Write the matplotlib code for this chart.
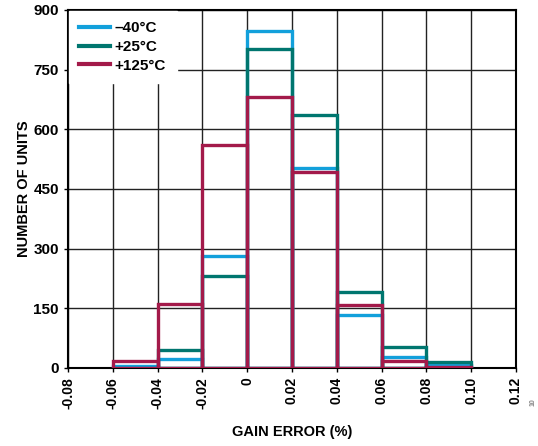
import numpy as np
import matplotlib.pyplot as plt

plt.rcParams['font.family'] = ['Liberation Sans', 'DejaVu Sans']
plt.rcParams['font.weight'] = 'bold'

# Histogram bins (gain error, %)
bin_edges = [-0.06, -0.04, -0.02, 0.0, 0.02, 0.04, 0.06, 0.08, 0.10]

# Number of units per bin for each temperature
counts_m40 = [5, 23, 281, 847, 502, 134, 27, 8]
counts_p25 = [0, 45, 231, 803, 636, 190, 54, 15]
counts_p125 = [18, 161, 560, 682, 492, 158, 18, 3]

series_labels = ['\u201340\u00b0C', '+25\u00b0C', '+125\u00b0C']
series_colors = ['#12A0DB', '#00766F', '#A31A4A']

x_ticks = [-0.08, -0.06, -0.04, -0.02, 0.0, 0.02, 0.04, 0.06, 0.08, 0.10, 0.12]
x_tick_labels = ['-0.08', '-0.06', '-0.04', '-0.02', '0', '0.02', '0.04',
                 '0.06', '0.08', '0.10', '0.12']
y_ticks = [0, 150, 300, 450, 600, 750, 900]

fig = plt.figure(figsize=(5.38, 4.46), dpi=100)
ax = fig.add_axes([0.1264, 0.1749, 0.8326, 0.8027])

lefts = np.array(bin_edges[:-1])
width = 0.02
for counts, color, label in zip([counts_m40, counts_p25, counts_p125],
                                series_colors, series_labels):
    ax.bar(lefts, counts, width=width, align='edge', fill=False,
           edgecolor=color, linewidth=2.4, zorder=3)
    ax.plot([], [], color=color, linewidth=3, label=label)

ax.set_xlim(-0.08, 0.12)
ax.set_ylim(0, 900)
ax.set_xticks(x_ticks)
ax.set_xticklabels(x_tick_labels, rotation=90, fontsize=10, fontweight='bold')
ax.set_yticks(y_ticks)
ax.set_yticklabels([str(v) for v in y_ticks], fontsize=11, fontweight='bold')
ax.tick_params(axis='both', direction='out', length=3, width=1, color='black')

ax.grid(True, color='#222222', linewidth=1.0, zorder=0)
ax.set_axisbelow(True)
for spine in ax.spines.values():
    spine.set_linewidth(1.5)
    spine.set_color('black')

ax.set_xlabel('GAIN ERROR (%)', fontsize=10.5, fontweight='bold', labelpad=12)
ax.set_ylabel('NUMBER OF UNITS', fontsize=10.5, fontweight='bold', labelpad=2)

leg = ax.legend(loc='upper left', frameon=True, fancybox=False,
                prop={'size': 11, 'weight': 'bold'}, handlelength=2.0,
                handletextpad=0.3, borderaxespad=0.05, borderpad=0.7,
                labelspacing=0.3)
leg.get_frame().set_edgecolor('white')
leg.get_frame().set_facecolor('white')
leg.get_frame().set_alpha(1)
leg.set_zorder(5)

fig.text(0.997, 0.09, '10', rotation=90, fontsize=5, color='#888888',
         ha='right', va='bottom')

fig.savefig('out.png', dpi=100)
plt.close(fig)
